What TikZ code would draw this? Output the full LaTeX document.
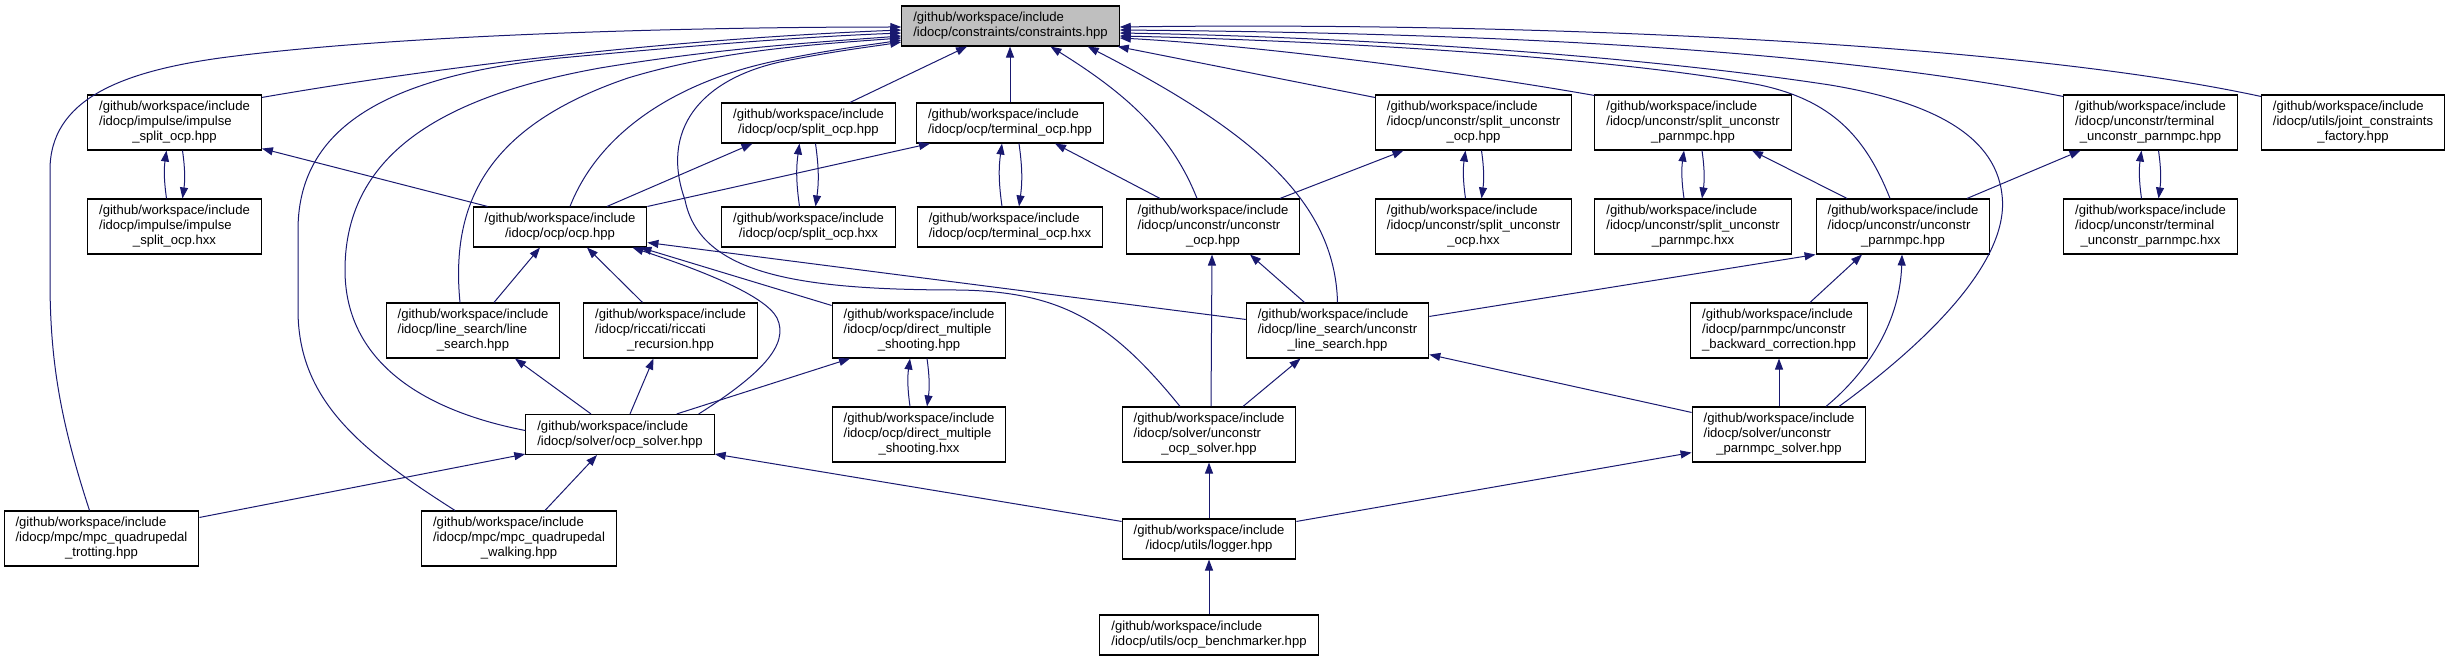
\documentclass[tikz,border=0pt]{standalone}
\usepackage{fontspec}
\setmainfont{Liberation Sans}
\usetikzlibrary{arrows.meta}
\definecolor{edgecol}{HTML}{191970}
\definecolor{rootfill}{HTML}{BFBFBF}
\newcommand{\lbl}[2]{\begin{tabular}{@{}l@{}}#1\\\multicolumn{1}{@{}c@{}}{#2}\end{tabular}}
\begin{document}
\begin{tikzpicture}[x=1pt,y=-1pt,
 box/.style={draw=black,line width=1.1pt,fill=white,inner xsep=11.5pt,inner ysep=5pt,font=\fontsize{13.1}{15}\selectfont},
 edge/.style={draw=edgecol,line width=1pt,-{Triangle[length=11pt,width=8pt]}}]
\useasboundingbox (0,0) rectangle (2451,661);
% row 1
\node[box,fill=rootfill] (cons) at (1010.5,26) {\lbl{/github/workspace/include}{/idocp/constraints/constraints.hpp}};
% row 2
\node[box] (impH) at (174.5,122.5) {\lbl{/github/workspace/include\\/idocp/impulse/impulse}{\_split\_ocp.hpp}};
\node[box] (socH) at (808.5,123) {\lbl{/github/workspace/include}{/idocp/ocp/split\_ocp.hpp}};
\node[box] (tocH) at (1010,123) {\lbl{/github/workspace/include}{/idocp/ocp/terminal\_ocp.hpp}};
\node[box] (suoH) at (1473.5,122.5) {\lbl{/github/workspace/include\\/idocp/unconstr/split\_unconstr}{\_ocp.hpp}};
\node[box] (supH) at (1693,122.5) {\lbl{/github/workspace/include\\/idocp/unconstr/split\_unconstr}{\_parnmpc.hpp}};
\node[box] (tupH) at (2150.5,122.5) {\lbl{/github/workspace/include\\/idocp/unconstr/terminal}{\_unconstr\_parnmpc.hpp}};
\node[box] (jcf) at (2353,122.5) {\lbl{/github/workspace/include\\/idocp/utils/joint\_constraints}{\_factory.hpp}};
% row 3
\node[box] (impX) at (174.5,226.5) {\lbl{/github/workspace/include\\/idocp/impulse/impulse}{\_split\_ocp.hxx}};
\node[box] (ocp) at (560,227) {\lbl{/github/workspace/include}{/idocp/ocp/ocp.hpp}};
\node[box] (socX) at (808.5,227) {\lbl{/github/workspace/include}{/idocp/ocp/split\_ocp.hxx}};
\node[box] (tocX) at (1010,227) {\lbl{/github/workspace/include}{/idocp/ocp/terminal\_ocp.hxx}};
\node[box] (uocp) at (1213,226.5) {\lbl{/github/workspace/include\\/idocp/unconstr/unconstr}{\_ocp.hpp}};
\node[box] (suoX) at (1473.5,226.5) {\lbl{/github/workspace/include\\/idocp/unconstr/split\_unconstr}{\_ocp.hxx}};
\node[box] (supX) at (1693,226.5) {\lbl{/github/workspace/include\\/idocp/unconstr/split\_unconstr}{\_parnmpc.hxx}};
\node[box] (upar) at (1903,226.5) {\lbl{/github/workspace/include\\/idocp/unconstr/unconstr}{\_parnmpc.hpp}};
\node[box] (tupX) at (2150.5,226.5) {\lbl{/github/workspace/include\\/idocp/unconstr/terminal}{\_unconstr\_parnmpc.hxx}};
% row 4
\node[box] (ls) at (473,330.5) {\lbl{/github/workspace/include\\/idocp/line\_search/line}{\_search.hpp}};
\node[box] (ric) at (670.5,330.5) {\lbl{/github/workspace/include\\/idocp/riccati/riccati}{\_recursion.hpp}};
\node[box] (dmsH) at (919,330.5) {\lbl{/github/workspace/include\\/idocp/ocp/direct\_multiple}{\_shooting.hpp}};
\node[box] (uls) at (1337.5,330.5) {\lbl{/github/workspace/include\\/idocp/line\_search/unconstr}{\_line\_search.hpp}};
\node[box] (ubc) at (1779,330.5) {\lbl{/github/workspace/include\\/idocp/parnmpc/unconstr}{\_backward\_correction.hpp}};
% row 5
\node[box] (osol) at (620,434.5) {\lbl{/github/workspace/include}{/idocp/solver/ocp\_solver.hpp}};
\node[box] (dmsX) at (919,434.5) {\lbl{/github/workspace/include\\/idocp/ocp/direct\_multiple}{\_shooting.hxx}};
\node[box] (uosol) at (1209,434.5) {\lbl{/github/workspace/include\\/idocp/solver/unconstr}{\_ocp\_solver.hpp}};
\node[box] (upsol) at (1779,434.5) {\lbl{/github/workspace/include\\/idocp/solver/unconstr}{\_parnmpc\_solver.hpp}};
% row 6
\node[box] (trot) at (101.5,538.5) {\lbl{/github/workspace/include\\/idocp/mpc/mpc\_quadrupedal}{\_trotting.hpp}};
\node[box] (walk) at (519,538.5) {\lbl{/github/workspace/include\\/idocp/mpc/mpc\_quadrupedal}{\_walking.hpp}};
\node[box] (log) at (1209,539) {\lbl{/github/workspace/include}{/idocp/utils/logger.hpp}};
% row 7
\node[box] (bench) at (1209,635) {\lbl{/github/workspace/include}{/idocp/utils/ocp\_benchmarker.hpp}};

% ---- edges into constraints, west side
\draw[edge] ([xshift=-12pt]trot.north) .. controls (60,420) and (50,360) .. (50,280) -- (50,170) .. controls (50,100) and (120,72) .. (220,58) .. controls (400,34) and (700,27) .. ([yshift=-1pt]cons.west);
\draw[edge] ([yshift=-3pt]impH.north east) .. controls (420,70) and (650,40) .. ([yshift=-4pt]cons.west);
\draw[edge] ([xshift=-64pt]walk.north) .. controls (360,450) and (298,400) .. (298,310) -- (298,230) .. controls (298,120) and (400,75) .. (560,58) .. controls (700,45) and (800,37) .. ([yshift=-7pt]cons.west);
\draw[edge] ([yshift=4pt]osol.west) .. controls (420,410) and (345,360) .. (345,270) .. controls (345,150) and (450,95) .. (600,68) .. controls (720,48) and (820,42) .. ([yshift=-10pt]cons.west);
\draw[edge] ([xshift=-13pt]ls.north) .. controls (450,200) and (490,125) .. (628,78) .. controls (720,50) and (820,44) .. ([yshift=-12pt]cons.west);
\draw[edge] ([xshift=10pt]ocp.north) .. controls (600,130) and (680,80) .. (780,60) .. controls (840,48) and (870,45) .. ([yshift=-14pt]cons.west);
\draw[edge] ([xshift=-29pt]uosol.north) .. controls (1110,320) and (1060,292) .. (960,290) .. controls (800,290) and (700,275) .. (685,200) .. controls (660,130) and (700,80) .. (780,62) .. controls (840,50) and (870,47) .. ([yshift=-16pt]cons.west);
% bottom side
\draw[edge] ([xshift=41.5pt]socH.north) -- ([xshift=-43.5pt]cons.south);
\draw[edge] (tocH.north) -- ([xshift=-0.5pt]cons.south);
\draw[edge] ([xshift=-16pt]uocp.north) .. controls (1170,130) and (1120,90) .. ([xshift=40pt]cons.south);
\draw[edge] (uls.north) .. controls (1335,200) and (1250,130) .. ([xshift=-32pt]cons.south east);
\draw[edge] ([yshift=-3pt]suoH.north west) -- ([xshift=-2pt]cons.south east);
% east side
\draw[edge] ([yshift=-1pt]supH.north west) .. controls (1450,70) and (1250,45) .. ([yshift=-12pt]cons.east);
\draw[edge] ([xshift=-13pt]upar.north) .. controls (1865,135) and (1830,100) .. (1760,85) .. controls (1600,55) and (1300,40) .. ([yshift=-10pt]cons.east);
\draw[edge] ([xshift=60pt]upsol.north) .. controls (1930,340) and (2010,260) .. (2002,195) .. controls (1995,130) and (1920,100) .. (1830,85) .. controls (1600,50) and (1300,36) .. ([yshift=-7pt]cons.east);
\draw[edge] ([yshift=-2pt]tupH.north west) .. controls (1800,45) and (1450,33) .. ([yshift=-4pt]cons.east);
\draw[edge] ([yshift=-2pt]jcf.north west) .. controls (2000,40) and (1500,22) .. ([yshift=-1pt]cons.east);

% ---- other edges
\draw[edge] ([xshift=15pt]ocp.north west) -- ([yshift=2pt]impH.south east);
\draw[edge] ([xshift=47pt]ocp.north) -- ([xshift=-56pt]socH.south);
\draw[edge] (ocp.north east) -- ([xshift=-80pt]tocH.south);
\draw[edge] ([xshift=-53pt]uocp.north) -- ([xshift=45pt]tocH.south);
\draw[edge] ([xshift=67pt]uocp.north) -- ([xshift=-70pt]suoH.south);
\draw[edge] ([xshift=-56pt]upar.north) -- ([xshift=59pt]supH.south);
\draw[edge] ([xshift=64pt]upar.north) -- ([xshift=-70pt]tupH.south);
\draw[edge] ([xshift=21pt]ls.north) -- ([xshift=-20pt]ocp.south);
\draw[edge] ([xshift=-28pt]ric.north) -- ([xshift=27pt]ocp.south);
\draw[edge] ([xshift=-16pt]osol.north east) .. controls (760,375) and (790,345) .. (777,318) .. controls (765,295) and (700,270) .. ([xshift=-15pt]ocp.south east);
\draw[edge] ([yshift=-3pt]dmsH.north west) -- ([xshift=-7pt]ocp.south east);
\draw[edge] ([yshift=-17pt]uls.north west) -- ([yshift=5pt]ocp.south east);
\draw[edge] ([xshift=2pt]uosol.north) -- ([xshift=-1pt]uocp.south);
\draw[edge] ([xshift=-33pt]uls.north) -- ([xshift=37pt]uocp.south);
\draw[edge] ([xshift=34pt]uosol.north) -- ([xshift=-37pt]uls.south);
\draw[edge] ([yshift=-6pt]upsol.north west) -- ([yshift=4pt]uls.south east);
\draw[edge] ([yshift=-14pt]uls.north east) -- (upar.south west);
\draw[edge] ([xshift=31pt]ubc.north) -- ([xshift=-41pt]upar.south);
\draw[edge] (upsol.north) -- (ubc.south);
\draw[edge] ([xshift=47pt]upsol.north) .. controls (1870,370) and (1900,320) .. ([xshift=-1pt]upar.south);
\draw[edge] ([xshift=-29pt]osol.north) -- ([xshift=42pt]ls.south);
\draw[edge] ([xshift=10pt]osol.north) -- ([xshift=-17pt]ric.south);
\draw[edge] ([xshift=-38pt]osol.north east) -- ([xshift=-69pt]dmsH.south);
\draw[edge] ([yshift=-7pt]trot.north east) -- ([yshift=1pt]osol.south west);
\draw[edge] ([xshift=26pt]walk.north) -- ([xshift=-23pt]osol.south);
\draw[edge] ([yshift=-3pt]log.north west) -- ([yshift=1pt]osol.south east);
\draw[edge] (log.north) -- (uosol.south);
\draw[edge] ([yshift=-3pt]log.north east) -- ([yshift=10pt]upsol.south west);
\draw[edge] (bench.north) -- (log.south);

% ---- hpp <-> hxx pairs
\draw[edge] ([xshift=-8pt]impX.north) to[bend left=8] ([xshift=-8pt]impH.south);
\draw[edge] ([xshift=8pt]impH.south) to[bend left=8] ([xshift=8pt]impX.north);
\draw[edge] ([xshift=-9pt]socX.north) to[bend left=8] ([xshift=-9pt]socH.south);
\draw[edge] ([xshift=7pt]socH.south) to[bend left=8] ([xshift=7pt]socX.north);
\draw[edge] ([xshift=-8pt]tocX.north) to[bend left=8] ([xshift=-8pt]tocH.south);
\draw[edge] ([xshift=9pt]tocH.south) to[bend left=8] ([xshift=9pt]tocX.north);
\draw[edge] ([xshift=-8pt]suoX.north) to[bend left=8] ([xshift=-8pt]suoH.south);
\draw[edge] ([xshift=8pt]suoH.south) to[bend left=8] ([xshift=8pt]suoX.north);
\draw[edge] ([xshift=-9pt]supX.north) to[bend left=8] ([xshift=-9pt]supH.south);
\draw[edge] ([xshift=9pt]supH.south) to[bend left=8] ([xshift=9pt]supX.north);
\draw[edge] ([xshift=-9pt]tupX.north) to[bend left=8] ([xshift=-9pt]tupH.south);
\draw[edge] ([xshift=8pt]tupH.south) to[bend left=8] ([xshift=8pt]tupX.north);
\draw[edge] ([xshift=-9pt]dmsX.north) to[bend left=8] ([xshift=-9pt]dmsH.south);
\draw[edge] ([xshift=8pt]dmsH.south) to[bend left=8] ([xshift=8pt]dmsX.north);
\end{tikzpicture}
\end{document}
